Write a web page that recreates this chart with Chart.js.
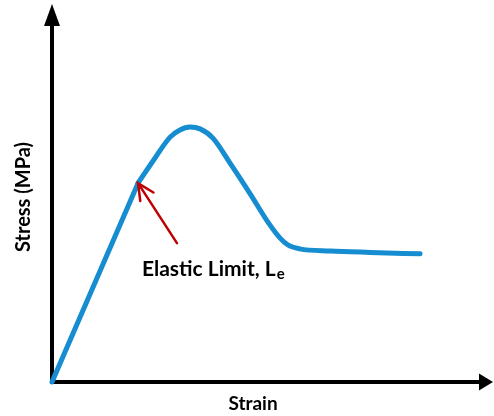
<!DOCTYPE html>
<html>
<head>
<meta charset="utf-8">
<script src="https://cdn.jsdelivr.net/npm/chart.js@4"></script>
<style>
  html, body { margin: 0; padding: 0; background: #fff; }
  #chart { display: block; }
</style>
</head>
<body>
<canvas id="chart" width="494" height="416"></canvas>
<script>
// straight elastic part (origin -> elastic limit)
const strainLinear = [0, 2.01];
const stressLinear = [0, 5.57];

// curved part after the elastic limit
const strainCurve = [2.01, 2.36, 2.76, 2.99, 3.22, 3.46, 3.76, 4.16, 4.63, 5.09, 5.33, 5.51, 5.79, 6.50, 7.43, 8.60];
const stressCurve = [5.57, 6.19, 6.86, 7.06, 7.14, 7.09, 6.83, 6.13, 5.27, 4.40, 4.03, 3.84, 3.73, 3.67, 3.63, 3.59];

// annotation (data units)
const arrowTail  = [2.92, 3.89];
const labelPos   = [2.10, 3.17];
const labelText  = 'Elastic Limit, L';
const labelSub   = 'e';
const xTitle     = 'Strain';
const yTitle     = 'Stress (MPa)';

const LINE_BLUE = '#168dd0';
const ARROW_RED = '#c00000';
const FONT = 'Lato, "Open Sans", sans-serif';

const toPoints = (xs, ys) => xs.map((x, i) => ({ x, y: ys[i] }));

// arrowheads on the axes + text labels
const decorations = {
  id: 'decorations',
  afterDraw(chart) {
    const ctx = chart.ctx;
    const { left, top, right, bottom } = chart.chartArea;
    const sx = chart.scales.x, sy = chart.scales.y;

    ctx.save();
    ctx.fillStyle = '#000';
    // y axis arrow
    ctx.beginPath();
    ctx.moveTo(left, top - 21);
    ctx.lineTo(left - 8, top + 1);
    ctx.lineTo(left + 8, top + 1);
    ctx.closePath();
    ctx.fill();
    // x axis arrow
    ctx.beginPath();
    ctx.moveTo(right + 13, bottom);
    ctx.lineTo(right - 1, bottom - 8.5);
    ctx.lineTo(right - 1, bottom + 8.5);
    ctx.closePath();
    ctx.fill();

    // axis titles
    ctx.font = 'bold 19px ' + FONT;
    ctx.textAlign = 'center';
    ctx.textBaseline = 'middle';
    ctx.fillText(xTitle, 253, 404);
    ctx.save();
    ctx.translate(24, 197);
    ctx.rotate(-Math.PI / 2);
    ctx.font = 'bold 20px ' + FONT;
    ctx.fillText(yTitle, 0, 0);
    ctx.restore();

    // red arrow to the elastic limit
    const tipX = sx.getPixelForValue(strainLinear[1]);
    const tipY = sy.getPixelForValue(stressLinear[1]);
    const tailX = sx.getPixelForValue(arrowTail[0]);
    const tailY = sy.getPixelForValue(arrowTail[1]);
    const ang = Math.atan2(tailY - tipY, tailX - tipX);
    ctx.strokeStyle = ARROW_RED;
    ctx.lineWidth = 2.5;
    ctx.lineCap = 'round';
    ctx.beginPath();
    ctx.moveTo(tailX, tailY);
    ctx.lineTo(tipX, tipY);
    ctx.moveTo(tipX + 18 * Math.cos(ang - 0.45), tipY + 18 * Math.sin(ang - 0.45));
    ctx.lineTo(tipX, tipY);
    ctx.lineTo(tipX + 18 * Math.cos(ang + 0.45), tipY + 18 * Math.sin(ang + 0.45));
    ctx.stroke();

    // label with subscript
    const lx = sx.getPixelForValue(labelPos[0]);
    const ly = sy.getPixelForValue(labelPos[1]);
    ctx.fillStyle = '#000';
    ctx.textAlign = 'left';
    ctx.font = 'bold 21px ' + FONT;
    ctx.fillText(labelText, lx, ly);
    const w = ctx.measureText(labelText).width;
    ctx.font = 'bold 15px ' + FONT;
    ctx.fillText(labelSub, lx + w + 1, ly + 5);
    ctx.restore();
  }
};

new Chart(document.getElementById('chart').getContext('2d'), {
  type: 'scatter',
  data: {
    datasets: [{
      data: toPoints(strainLinear, stressLinear),
      showLine: true,
      borderColor: LINE_BLUE,
      borderWidth: 5,
      borderCapStyle: 'round',
      pointRadius: 0,
      clip: false
    }, {
      data: toPoints(strainCurve, stressCurve),
      showLine: true,
      cubicInterpolationMode: 'monotone',
      borderColor: LINE_BLUE,
      borderWidth: 5,
      borderCapStyle: 'round',
      borderJoinStyle: 'round',
      pointRadius: 0,
      clip: false
    }]
  },
  options: {
    responsive: false,
    animation: false,
    events: [],
    layout: { padding: { top: 25, right: 14, left: 0, bottom: 0 } },
    plugins: { legend: { display: false }, tooltip: { enabled: false } },
    scales: {
      x: {
        type: 'linear', min: 0, max: 10,
        ticks: { display: false },
        grid: { display: false },
        border: { color: '#000', width: 4 },
        afterFit: s => { s.height = 34; }
      },
      y: {
        type: 'linear', min: 0, max: 10,
        ticks: { display: false },
        grid: { display: false },
        border: { color: '#000', width: 4 },
        afterFit: s => { s.width = 52; }
      }
    }
  },
  plugins: [decorations]
});
</script>
</body>
</html>
